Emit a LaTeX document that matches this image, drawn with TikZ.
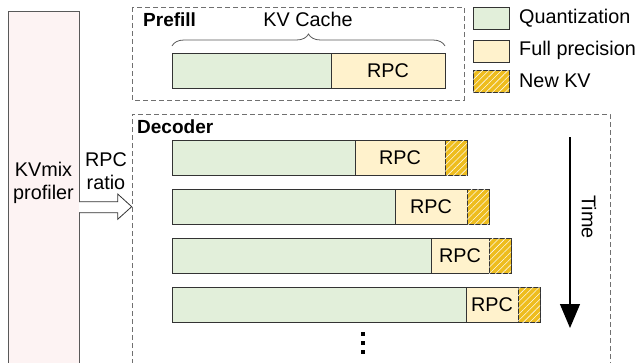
\documentclass[tikz,border=0pt]{standalone}
\usepackage{fontspec}
\setmainfont{Liberation Sans}
\usetikzlibrary{arrows.meta,patterns.meta,decorations.pathreplacing,positioning}
\definecolor{qgreen}{HTML}{E2EFDA}
\definecolor{fpyellow}{HTML}{FFF2CC}
\definecolor{kvorange}{HTML}{EEBD1E}
\definecolor{profpink}{HTML}{FDF3F3}
\definecolor{edgec}{HTML}{333333}
\definecolor{dashc}{HTML}{707070}
\tikzset{
  cell/.style={draw=edgec, line width=0.9pt, minimum height=35pt, inner sep=0pt, outer sep=0pt, anchor=north west, font=\fontsize{19.8}{22}\selectfont},
  quant/.style={cell, fill=qgreen},
  fullp/.style={cell, fill=fpyellow},
  newkv/.style={cell, fill=kvorange, minimum width=22pt, postaction={pattern={Lines[angle=45,distance=4.5pt,line width=0.6pt]}, pattern color=white!90!kvorange}},
  legbox/.style={draw=edgec, line width=0.9pt, minimum width=36pt, minimum height=22pt, inner sep=0pt, anchor=north west},
  legtext/.style={anchor=west, font=\fontsize{19.8}{22}\selectfont, inner sep=0pt},
  phase/.style={draw=dashc, line width=0.9pt, dash pattern=on 5pt off 3pt},
  title/.style={anchor=west, font=\bfseries\fontsize{19}{22}\selectfont, inner sep=0pt},
  txt/.style={font=\fontsize{19.8}{22.5}\selectfont, align=center, inner sep=0pt},
  dotsq/.style={fill=black, minimum size=3.5pt, inner sep=0pt}
}
\begin{document}
\begin{tikzpicture}[x=1pt,y=-1pt]
\useasboundingbox (0,0) rectangle (638,362);
\clip (0,0) rectangle (638,362);
% profiler
\draw[fill=profpink, draw=black!65, line width=0.9pt] (8,11) rectangle (79,380);
\coordinate (profE) at (79,207);
\node[txt] (proftext) at (43.5,183) {KVmix\\profiler};
% Prefill box
\draw[phase] (132,7) rectangle (464,100);
\node[title] (prefill) at (143,20) {Prefill};
\node[txt] (kvcache) at (308,19) {KV Cache};
\node[quant, minimum width=159pt] (pq) at (172,53) {};
\node[fullp, minimum width=114pt] (pr) at (pq.north east) {RPC};
\draw[draw=black!65, line width=0.8pt, decorate, decoration={brace, amplitude=12pt}] ([yshift=7pt]pq.north west) -- ([yshift=7pt]pr.north east);
% legend
\node[legbox, fill=qgreen] (lq) at (473,7) {};
\node[legtext] (lqt) at (519,18) {Quantization};
\node[legbox, fill=fpyellow] (lf) at (473,40) {};
\node[legtext] (lft) at (519,50) {Full precision};
\node[legbox, fill=kvorange, postaction={pattern={Lines[angle=45,distance=4.5pt,line width=0.6pt]}, pattern color=white!90!kvorange}] (ln) at (473,70) {};
\node[legtext] (lnt) at (519,81) {New KV};
% Decoder box
\draw[phase] (132,380) -- (132,114) -- (610,114) -- (610,380);
\node[title] (decoder) at (137,127) {Decoder};
% bars
\node[quant, minimum width=183pt] (q1) at (172,140) {};
\node[fullp, minimum width=90pt] (r1) at (q1.north east) {RPC};
\node[newkv] (n1) at (r1.north east) {};
\node[quant, minimum width=223pt] (q2) at (172,189) {};
\node[fullp, minimum width=72pt] (r2) at (q2.north east) {RPC};
\node[newkv] (n2) at (r2.north east) {};
\node[quant, minimum width=259pt] (q3) at (172,238) {};
\node[fullp, minimum width=58pt] (r3) at (q3.north east) {RPC};
\node[newkv] (n3) at (r3.north east) {};
\node[quant, minimum width=294pt] (q4) at (172,287.5) {};
\node[fullp, minimum width=52pt] (r4) at (q4.north east) {RPC};
\node[newkv] (n4) at (r4.north east) {};
% dots
\node[dotsq] (d1) at (363,334) {};
\node[dotsq] (d2) at (363,343) {};
\node[dotsq] (d3) at (363,352) {};
% RPC ratio arrow
\node[txt] (ratio) at (106,171) {RPC\\ratio};
\draw[draw=black!80, fill=white, line width=0.8pt] (profE |- 0,201.7) -- (117.7,201.7) -- (117.7,194) -- (131.7,206.7) -- (117.7,219.3) -- (117.7,212.7) -- (profE |- 0,212.7);
% Time
\coordinate (tstart) at (570,137);
\coordinate (tend) at (570,328);
\draw[line width=1.2pt, -{Triangle[width=20pt,length=24pt]}] (tstart) -- (tend);
\node[txt, rotate=-90] (time) at (589,217) {Time};
\end{tikzpicture}
\end{document}
